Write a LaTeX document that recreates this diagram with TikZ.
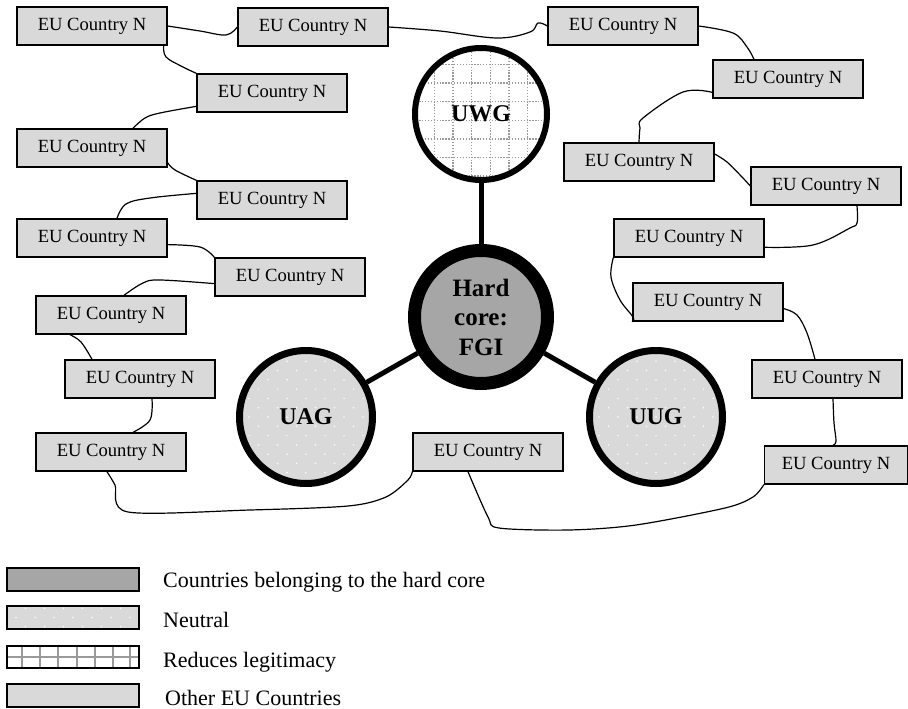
\documentclass[tikz,border=0pt]{standalone}
\usepackage{fontspec}
\setmainfont{Liberation Serif}
\definecolor{boxgray}{HTML}{D9D9D9}
\definecolor{hcgray}{HTML}{A6A6A6}
\definecolor{gridgray}{HTML}{9A9A9A}
\begin{document}
\begin{tikzpicture}[x=1pt,y=-1pt,
  country/.style={draw=black, line width=1.4pt, fill=boxgray, minimum width=150pt,
    minimum height=38pt, inner sep=0pt, font=\fontsize{18.6}{20}\selectfont},
  conn/.style={line width=1.2pt, line join=round, line cap=round},
  spoke/.style={line width=5pt},
  neutraldots/.style={path picture={
    \foreach \i in {-5,...,5} \foreach \j in {-8,...,8} {
      \pgfmathsetmacro{\xo}{\i*19+mod(abs(\j),2)*9.5}
      \fill[white!96!boxgray] ([xshift=\xo pt, yshift=\j*9.3pt]path picture bounding box.center) circle (0.85pt);
    }}},
  gridlines/.style={path picture={
    \foreach \k in {-4,...,3} {
      \draw[gridgray, line width=1.3pt, dash pattern=on 1.3pt off 1.6pt]
        ([xshift=\k*18.6pt+9.3pt, yshift=85pt]path picture bounding box.center) -- ++(0,170);
      \draw[gridgray, line width=1.3pt, dash pattern=on 1.3pt off 1.6pt]
        ([yshift=-\k*18.6pt-9.3pt+3pt, xshift=-85pt]path picture bounding box.center) -- ++(170,0);
    }}},
  ring/.style={circle, draw=black, inner sep=0pt, align=center,
    font=\bfseries\fontsize{24}{29}\selectfont},
  legendbox/.style={draw=black, line width=1.8pt},
  legendtext/.style={anchor=base west, inner sep=0pt, font=\fontsize{22}{24}\selectfont}
]
\useasboundingbox (0,0) rectangle (908,709);

% circles
\node[ring, line width=6pt, minimum size=132pt, fill=white, gridlines] (uwg) at (481,114) {UWG};
\node[ring, line width=13pt, minimum size=133pt, fill=hcgray, font=\bfseries\fontsize{25}{29.5}\selectfont] (hc) at (481,317) {Hard\\core:\\FGI};
\node[ring, line width=7pt, minimum size=133pt, fill=boxgray, neutraldots] (uag) at (306,417) {UAG};
\node[ring, line width=7pt, minimum size=133pt, fill=boxgray, neutraldots] (uug) at (656,417) {UUG};

\draw[spoke] (uwg) -- (hc);
\draw[spoke] (hc) -- (uag);
\draw[spoke] (hc) -- (uug);

% country boxes
\node[country] (b1) at (92,26) {EU Country N};
\node[country] (b2) at (313,27) {EU Country N};
\node[country] (b3) at (623,26) {EU Country N};
\node[country] (b4) at (272,93) {EU Country N};
\node[country] (b5) at (92,148) {EU Country N};
\node[country] (b6) at (272,200) {EU Country N};
\node[country] (b7) at (92,238) {EU Country N};
\node[country] (b8) at (290,277) {EU Country N};
\node[country] (b9) at (111,315) {EU Country N};
\node[country] (b10) at (140,379) {EU Country N};
\node[country] (b11) at (111,452) {EU Country N};
\node[country] (b12) at (488,452) {EU Country N};
\node[country] (b13) at (788,79) {EU Country N};
\node[country] (b14) at (639,162) {EU Country N};
\node[country] (b15) at (826,186) {EU Country N};
\node[country] (b16) at (689,238) {EU Country N};
\node[country] (b17) at (708,302) {EU Country N};
\node[country] (b18) at (827,379) {EU Country N};
\node[country, minimum width=143pt] (b19) at (836,465) {EU Country N};

% connectors
\draw[conn] plot[smooth, tension=0.6] coordinates {(b1.east) (200,31) (226,35) (b2.west)};
\draw[conn] plot[smooth, tension=0.6] coordinates {(b2.east) (440,31) (497,38) (530,32) (538,23) (b3.west)};
\draw[conn] plot[smooth, tension=0.6] coordinates {([xshift=-4pt]b1.south east) (166,57) (183,67) (b4.north west)};
\draw[conn] plot[smooth, tension=0.6] coordinates {(b4.190) (160,113) (145,118) ([xshift=41pt]b5.north)};
\draw[conn] plot[smooth, tension=0.6] coordinates {(b5.-11) (175,170) (b6.north west)};
\draw[conn] plot[smooth, tension=0.6] coordinates {([xshift=25pt]b7.north) (126,204) (150,198) (b6.175)};
\draw[conn] plot[smooth, tension=0.6] coordinates {(b7.-5) (200,247) (b8.north west)};
\draw[conn] plot[smooth, tension=0.6] coordinates {(b8.185) (160,280) (143,283) ([xshift=13pt]b9.north)};
\draw[conn] plot[smooth, tension=0.6] coordinates {([xshift=-41pt]b9.south) (81,342) ([xshift=-48pt]b10.north)};
\draw[conn] plot[smooth, tension=0.6] coordinates {([xshift=12pt]b10.south) (150,420) ([xshift=22pt]b11.north)};
\draw[conn] plot[smooth, tension=0.5] coordinates {([xshift=-4pt]b11.south) (115,485) (128,512) (250,510) (348,506) (386,497) (408,480) (b12.south west)};
\draw[conn] plot[smooth, tension=0.5] coordinates {([xshift=-20pt]b12.south) (488,517) (499,528) (569,530) (636,525) (725,508) (753,497) (b19.south west)};
\draw[conn] plot[smooth, tension=0.6] coordinates {(b3.east) (733,33) (747,47) ([xshift=-34pt]b13.north)};
\draw[conn] plot[smooth, tension=0.6] coordinates {(b13.190) (683,92) (643,118) (640,128) (b14.north)};
\draw[conn] plot[smooth, tension=0.6] coordinates {(b14.6) (727,162) (742,177) (b15.west)};
\draw[conn] plot[smooth, tension=0.6] coordinates {([xshift=31pt]b15.south) (857,223) (850,228) (813,245) (b16.-7)};
\draw[conn] plot[smooth, tension=0.6] coordinates {(b16.south west) (611,277) (620,300) (633,317) (b17.south west)};
\draw[conn] plot[smooth, tension=0.6] coordinates {(b17.-5) (797,315) (807,333) ([xshift=-12pt]b18.north)};
\draw[conn] plot[smooth, tension=0.6] coordinates {([xshift=6pt]b18.south) (834,423) (836,441) ([xshift=-3pt]b19.north)};

% legend
\path[legendbox, fill=hcgray] (7,568) rectangle (139,591);
\path[legendbox, fill=boxgray, neutraldots] (7,606) rectangle (139,629);
\fill[white] (7,646) rectangle (139,668);
\foreach \gx in {22,40,58,77,95,113,130} \draw[gridgray, line width=1.5pt] (\gx,646) -- (\gx,668);
\draw[gridgray, line width=1.5pt] (7,657) -- (139,657);
\draw[legendbox] (7,646) rectangle (139,668);
\path[legendbox, fill=boxgray] (7,684) rectangle (139,707);

\node[legendtext] (l1) at (163,587) {Countries belonging to the hard core};
\node[legendtext] (l2) at (163,627) {Neutral};
\node[legendtext] (l3) at (163,667) {Reduces legitimacy};
\node[legendtext] (l4) at (165,705) {Other EU Countries};
\end{tikzpicture}
\end{document}
